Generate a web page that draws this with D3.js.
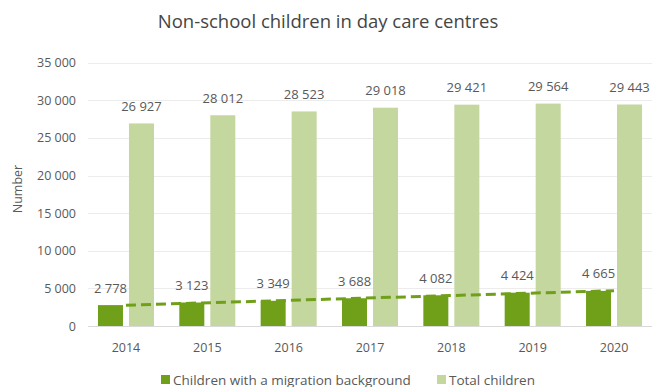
<!DOCTYPE html>
<html>
<head>
<meta charset="utf-8">
<script src="https://cdn.jsdelivr.net/npm/d3@7"></script>
<style>
  html, body { margin: 0; padding: 0; background: #fff; }
  svg { display: block; font-family: "Open Sans", Lato, sans-serif; }
</style>
</head>
<body>
<svg id="chart" width="654" height="387"></svg>
<script>
// Day care data, 2014–2020
const years = ["2014", "2015", "2016", "2017", "2018", "2019", "2020"];
const migrationBackground = [2778, 3123, 3349, 3688, 4082, 4424, 4665];
const totalChildren = [26927, 28012, 28523, 29018, 29421, 29564, 29443];
const seriesNames = ["Children with a migration background", "Total children"];
const yTicks = [0, 5000, 10000, 15000, 20000, 25000, 30000, 35000];

const colors = { dark: "#70a01a", light: "#c4d79e" };
const textColor = "#595959";
const font = "'Open Sans', sans-serif";

const svg = d3.select("#chart");
const plot = { left: 85.3, right: 654.7, top: 62.7, bottom: 326 };

// Space grouping for thousands, e.g. "26 927"
const fmt = v => d3.format(",")(v).replace(/,/g, " ");

const x0 = d3.scaleBand()
  .domain(years)
  .range([plot.left, plot.right])
  .paddingInner(0.3115)
  .paddingOuter(0.3115 / 2);

const x1 = d3.scaleBand()
  .domain(seriesNames)
  .range([0, x0.bandwidth()])
  .paddingInner(0.1935);

const y = d3.scaleLinear().domain([0, 35000]).range([plot.bottom, plot.top]);

// Title
svg.append("text")
  .attr("x", 328).attr("y", 27.5)
  .attr("text-anchor", "middle")
  .attr("fill", "#454545")
  .style("font-size", "18.5px")
  .text("Non-school children in day care centres");

// Gridlines
svg.append("g")
  .selectAll("line")
  .data(yTicks)
  .join("line")
  .attr("x1", 88).attr("x2", 652)
  .attr("y1", d => Math.round(y(d)) + 0.5)
  .attr("y2", d => Math.round(y(d)) + 0.5)
  .attr("stroke", d => d === 0 ? "#d9d9d9" : "#ececec")
  .attr("stroke-width", 1);

// Y axis labels
const yAxis = d3.axisLeft(y).tickValues(yTicks).tickFormat(fmt).tickSize(0).tickPadding(0);
svg.append("g")
  .attr("transform", "translate(76,0)")
  .call(yAxis)
  .call(g => g.select(".domain").remove())
  .call(g => g.selectAll("text")
    .attr("fill", textColor)
    .style("font-size", "12.5px")
    .style("font-family", font));

// Y axis title
svg.append("text")
  .attr("transform", "translate(22,189) rotate(-90)")
  .attr("text-anchor", "middle")
  .attr("fill", textColor)
  .style("font-size", "12.5px")
  .text("Number");

// X axis labels
const xAxis = d3.axisBottom(x0).tickSize(0).tickPadding(0);
svg.append("g")
  .attr("transform", "translate(0,343)")
  .call(xAxis)
  .call(g => g.select(".domain").remove())
  .call(g => g.selectAll("text")
    .attr("fill", textColor)
    .style("font-size", "12.5px")
    .style("font-family", font));

const rows = years.map((yr, i) => ({
  year: yr,
  values: [
    { key: seriesNames[0], value: migrationBackground[i], color: colors.dark },
    { key: seriesNames[1], value: totalChildren[i], color: colors.light }
  ]
}));

const groups = svg.append("g")
  .selectAll("g")
  .data(rows)
  .join("g")
  .attr("transform", d => `translate(${x0(d.year)},0)`);

groups.selectAll("rect")
  .data(d => d.values)
  .join("rect")
  .attr("x", d => x1(d.key))
  .attr("width", x1.bandwidth())
  .attr("y", d => y(d.value))
  .attr("height", d => y(0) - y(d.value))
  .attr("fill", d => d.color);

groups.selectAll("text.value")
  .data(d => d.values)
  .join("text")
  .attr("class", "value")
  .attr("x", d => x1(d.key) + x1.bandwidth() / 2)
  .attr("y", d => y(d.value) - 12.5)
  .attr("text-anchor", "middle")
  .attr("fill", textColor)
  .style("font-size", "13px")
  .text(d => fmt(d.value));

// Linear trend of the migration-background series
const n = migrationBackground.length;
const xs = d3.range(1, n + 1);
const mx = d3.mean(xs), my = d3.mean(migrationBackground);
const slope = d3.sum(xs, (xv, i) => (xv - mx) * (migrationBackground[i] - my)) /
              d3.sum(xs, xv => (xv - mx) ** 2);
const intercept = my - slope * mx;
const trend = [1, n].map(k => ({ year: years[k - 1], value: intercept + slope * k }));

svg.append("path")
  .datum(trend)
  .attr("fill", "none")
  .attr("stroke", colors.dark)
  .attr("stroke-width", 3)
  .attr("stroke-dasharray", "10,5")
  .attr("d", d3.line()
    .x(d => x0(d.year) + x0.bandwidth() / 2)
    .y(d => y(d.value)));

// Legend
const legendItems = [
  { name: seriesNames[0], color: colors.dark, x: 161 },
  { name: seriesNames[1], color: colors.light, x: 437 }
];
const legend = svg.append("g")
  .selectAll("g")
  .data(legendItems)
  .join("g")
  .attr("transform", d => `translate(${d.x},375)`);
legend.append("rect")
  .attr("width", 9).attr("height", 9)
  .attr("fill", d => d.color);
legend.append("text")
  .attr("x", 12).attr("y", 9.5)
  .attr("fill", textColor)
  .style("font-size", "13.5px")
  .text(d => d.name);
</script>
</body>
</html>
